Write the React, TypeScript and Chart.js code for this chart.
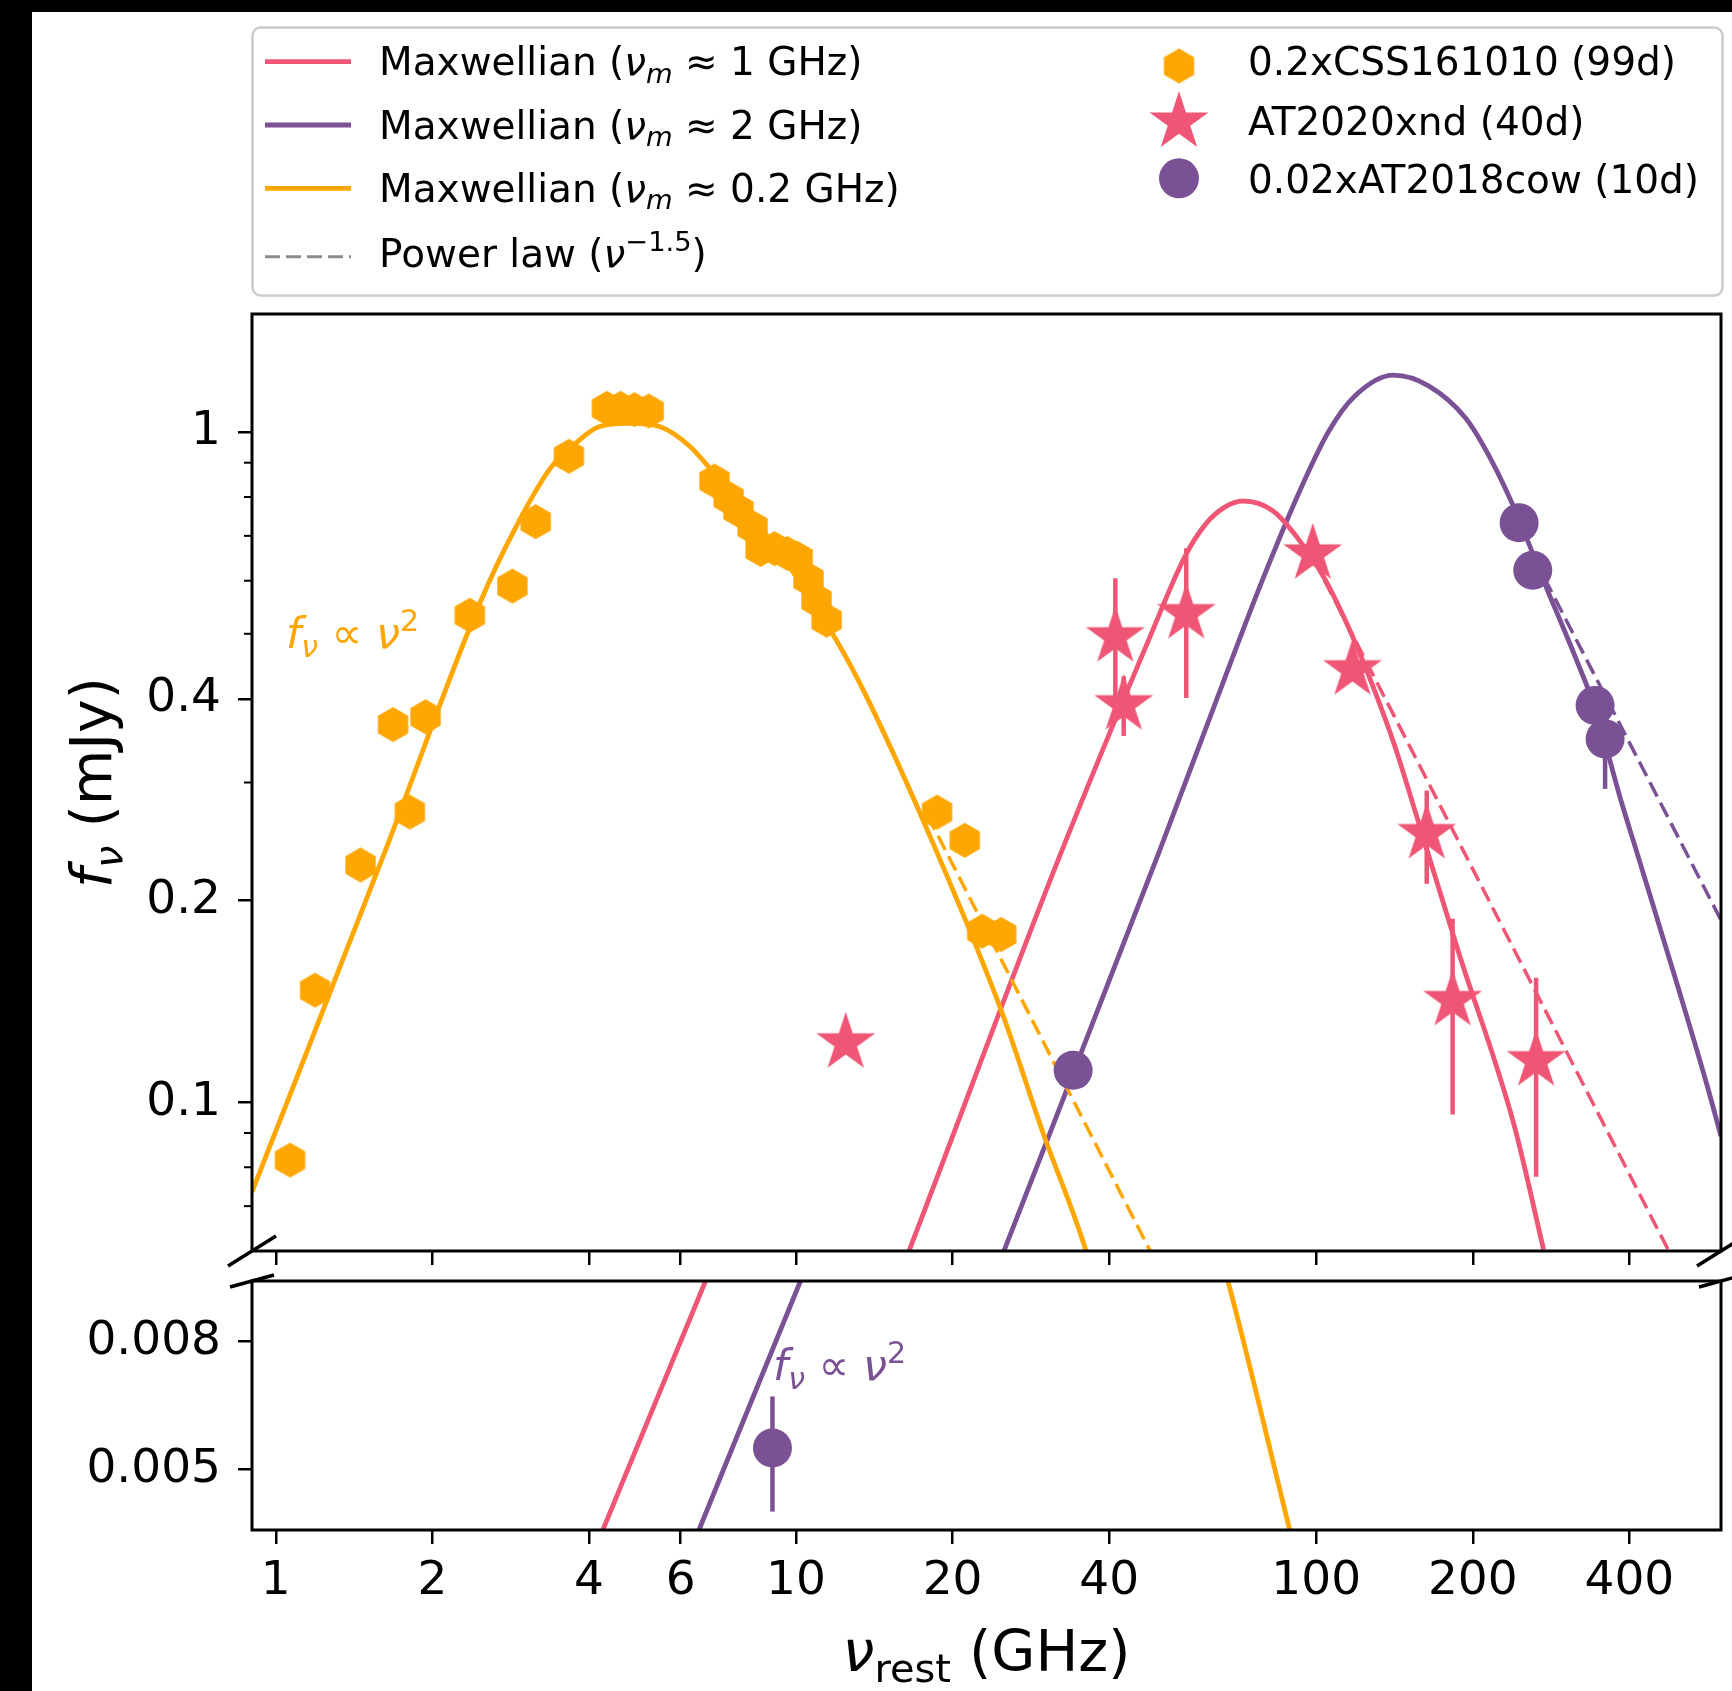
import { useEffect, useRef } from 'react';
import { Chart, registerables } from 'chart.js';

Chart.register(...registerables);

const RED = '#ef5675';
const PURPLE = '#7a5195';
const ORANGE = '#ffa600';
const FONT = '"DejaVu Sans", sans-serif';

// ---- observed spectra (rest-frame GHz, mJy) ----
const cssFreq = [1.065, 1.19, 1.455, 1.68, 1.81, 1.94, 2.36, 2.85, 3.16, 3.66, 4.33, 4.6, 4.89, 5.21, 6.97, 7.42, 7.75, 8.25, 8.55, 9.09, 9.63, 10.07, 10.57, 10.95, 11.45, 18.67, 21.1, 22.8, 24.8];
const cssFlux = [0.082, 0.147, 0.226, 0.366, 0.271, 0.376, 0.533, 0.589, 0.735, 0.92, 1.085, 1.085, 1.08, 1.075, 0.845, 0.797, 0.764, 0.721, 0.668, 0.67, 0.659, 0.648, 0.603, 0.561, 0.524, 0.271, 0.246, 0.18, 0.178];

const xndFreq = [12.46, 41.1, 42.65, 56.26, 98.5, 117.4, 163.1, 182.9, 264.7];
const xndFlux = [0.1227, 0.495, 0.392, 0.536, 0.658, 0.442, 0.2518, 0.1419, 0.1154];
const xndErr = [0, 0.11, 0.04, 0.135, 0, 0, 0.04, 0.046, 0.038];

const cowFreq = [9.01, 34.1, 245.5, 260.8, 343.6, 359.2];
const cowFlux = [0.00541, 0.1116, 0.732, 0.622, 0.391, 0.3485];
const cowErr = [0.00113, 0, 0, 0, 0, 0.055];

// ---- Maxwellian model curves ----
const maxw1Freq = [4.253, 6.7, 16.53, 31.87, 47.98, 56.1, 61.4, 66.6, 72.3, 82.5, 92.6, 103.8, 116.5, 128.5, 141.8, 156.5, 187.4, 239.9, 273.6];
const maxw1Flux = [0.004, 0.01, 0.0603, 0.2293, 0.4961, 0.655, 0.73, 0.772, 0.789, 0.763, 0.691, 0.604, 0.5026, 0.4177, 0.339, 0.265, 0.1683, 0.0927, 0.0603];

const maxw2Freq = [6.508, 10.2, 25.16, 50.0, 66.6, 78.5, 92.6, 105.5, 118.4, 140.7, 164.4, 193.7, 217.4, 239.9, 277.5, 316.9, 343.6, 385.5, 412.5, 494.1, 563.4, 600];
const maxw2Flux = [0.004, 0.01, 0.0603, 0.2374, 0.428, 0.5966, 0.811, 1.0, 1.13, 1.216, 1.172, 1.049, 0.906, 0.772, 0.584, 0.456, 0.387, 0.2818, 0.2374, 0.15, 0.1064, 0.089];

const maxw02Freq = [0.9, 1.624, 2.461, 2.882, 3.375, 3.776, 4.18, 4.786, 5.48, 6.27, 6.7, 8.93, 11.91, 13.67, 18.6, 24.82, 29.91, 36.03, 67.64, 88.95];
const maxw02Flux = [0.0735, 0.2374, 0.553, 0.717, 0.884, 0.963, 1.018, 1.03, 1.018, 0.95, 0.898, 0.69, 0.4915, 0.4026, 0.2374, 0.1369, 0.0896, 0.0603, 0.01, 0.004];

// ---- optically thin power-law tails (nu^-1.5) ----
const plOrangeFreq = [17.9, 48.5];
const plOrangeFlux = [0.268, 0.059];
const plRedFreq = [99, 487];
const plRedFlux = [0.645, 0.058];
const plPurpleFreq = [262, 600];
const plPurpleFlux = [0.65, 0.187];

// ---- axes ----
const xTickValues = [1, 2, 4, 6, 10, 20, 40, 100, 200, 400];
const yTickValuesTop = [0.1, 0.2, 0.4, 1];
const yMinorTop = [0.07, 0.08, 0.09, 0.3, 0.5, 0.6, 0.7, 0.8, 0.9];
const yTickValuesBottom = [0.005, 0.008];

const X_RANGE = [0.9, 600];
const TOP_Y_RANGE = [0.06, 1.5];
const BOTTOM_Y_RANGE = [0.004, 0.01];

const TICK_FONT = 47;
const LABEL_FONT = 57;
const LEGEND_FONT = 39;
const NOTE_FONT = 43;
const CURVE_WIDTH = 4.8;

type Run = { t: string; it?: boolean; sub?: boolean; sup?: boolean };

function runFont(r: Run, size: number) {
  const s = r.sub || r.sup ? size * 0.7 : size;
  return `${r.it ? 'italic ' : ''}${s}px ${FONT}`;
}

function runsWidth(ctx: CanvasRenderingContext2D, runs: Run[], size: number) {
  let w = 0;
  for (const r of runs) {
    ctx.font = runFont(r, size);
    w += ctx.measureText(r.t).width;
  }
  return w;
}

function drawRuns(ctx: CanvasRenderingContext2D, runs: Run[], x: number, y: number, size: number, color: string) {
  ctx.fillStyle = color;
  ctx.textBaseline = 'alphabetic';
  ctx.textAlign = 'left';
  let cx = x;
  for (const r of runs) {
    ctx.font = runFont(r, size);
    const dy = r.sub ? 0.2 * size : r.sup ? -0.4 * size : 0;
    ctx.fillText(r.t, cx, y + dy);
    cx += ctx.measureText(r.t).width;
  }
}

function makeHexagon(R: number, color: string) {
  const c = document.createElement('canvas');
  const s = Math.ceil(R * 2 + 4);
  c.width = s;
  c.height = s;
  const g = c.getContext('2d')!;
  g.fillStyle = color;
  g.beginPath();
  for (let k = 0; k < 6; k++) {
    const a = -Math.PI / 2 + (k * Math.PI) / 3;
    const px = s / 2 + R * Math.cos(a);
    const py = s / 2 + R * Math.sin(a);
    if (k === 0) g.moveTo(px, py);
    else g.lineTo(px, py);
  }
  g.closePath();
  g.fill();
  return c;
}

function makeStar(R: number, color: string) {
  const c = document.createElement('canvas');
  const s = Math.ceil(R * 2 + 4);
  c.width = s;
  c.height = s;
  const g = c.getContext('2d')!;
  const r = R * 0.381966;
  g.fillStyle = color;
  g.beginPath();
  for (let k = 0; k < 10; k++) {
    const a = -Math.PI / 2 + (k * Math.PI) / 5;
    const rad = k % 2 === 0 ? R : r;
    const px = s / 2 + rad * Math.cos(a);
    const py = s / 2 + rad * Math.sin(a);
    if (k === 0) g.moveTo(px, py);
    else g.lineTo(px, py);
  }
  g.closePath();
  g.fill();
  return c;
}

const toPoints = (xs: number[], ys: number[]) => xs.map((x, i) => ({ x, y: ys[i] }));

const relation = (value: string): Run[] => [
  { t: 'Maxwellian (' },
  { t: 'ν', it: true },
  { t: 'm', it: true, sub: true },
  { t: ` ≈ ${value} GHz)` },
];

const nuSquared: Run[] = [
  { t: 'f', it: true },
  { t: 'ν', it: true, sub: true },
  { t: ' ∝ ' },
  { t: 'ν', it: true },
  { t: '2', sup: true },
];

function drawLegend(ctx: CanvasRenderingContext2D, hexImg: HTMLCanvasElement, starImg: HTMLCanvasElement) {
  ctx.save();
  ctx.beginPath();
  ctx.roundRect(252.5, 27.5, 1470, 268, 8);
  ctx.fillStyle = '#ffffff';
  ctx.fill();
  ctx.lineWidth = 2.5;
  ctx.strokeStyle = '#cccccc';
  ctx.stroke();

  const lineRows = [
    { color: RED, dash: [] as number[], width: CURVE_WIDTH, y: 61.7, base: 75, runs: relation('1') },
    { color: PURPLE, dash: [] as number[], width: CURVE_WIDTH, y: 125, base: 138.5, runs: relation('2') },
    { color: ORANGE, dash: [] as number[], width: CURVE_WIDTH, y: 188.3, base: 201.5, runs: relation('0.2') },
    {
      color: '#8c8c8c',
      dash: [15, 6],
      width: 3,
      y: 256.7,
      base: 266.5,
      runs: [{ t: 'Power law (' }, { t: 'ν', it: true }, { t: '−1.5', sup: true }, { t: ')' }] as Run[],
    },
  ];
  for (const row of lineRows) {
    ctx.beginPath();
    ctx.setLineDash(row.dash);
    ctx.strokeStyle = row.color;
    ctx.lineWidth = row.width;
    ctx.moveTo(265, row.y);
    ctx.lineTo(351, row.y);
    ctx.stroke();
    ctx.setLineDash([]);
    drawRuns(ctx, row.runs, 379, row.base, LEGEND_FONT, '#000');
  }

  ctx.drawImage(hexImg, 1179 - hexImg.width / 2, 66 - hexImg.height / 2);
  ctx.drawImage(starImg, 1179 - starImg.width / 2, 122 - starImg.height / 2);
  ctx.beginPath();
  ctx.fillStyle = PURPLE;
  ctx.arc(1179, 178.3, 20, 0, Math.PI * 2);
  ctx.fill();

  drawRuns(ctx, [{ t: '0.2xCSS161010 (99d)' }], 1248, 75, LEGEND_FONT, '#000');
  drawRuns(ctx, [{ t: 'AT2020xnd (40d)' }], 1248, 135, LEGEND_FONT, '#000');
  drawRuns(ctx, [{ t: '0.02xAT2018cow (10d)' }], 1248, 193, LEGEND_FONT, '#000');
  ctx.restore();
}

function breakMark(ctx: CanvasRenderingContext2D, cx: number, cy: number, hx: number, hy: number) {
  ctx.beginPath();
  ctx.moveTo(cx - hx, cy + hy);
  ctx.lineTo(cx + hx, cy - hy);
  ctx.stroke();
}

function makePlugin(panel: 'top' | 'bottom', hexImg: HTMLCanvasElement, starImg: HTMLCanvasElement) {
  return {
    id: 'panelDecor',
    beforeDatasetDraw(chart: any, args: any) {
      const ds = chart.data.datasets[args.index];
      if (!ds.yErr) return;
      const { ctx, chartArea: a, scales } = chart;
      ctx.save();
      ctx.beginPath();
      ctx.rect(a.left, a.top, a.right - a.left, a.bottom - a.top);
      ctx.clip();
      ctx.strokeStyle = ds.errColor;
      ctx.lineWidth = 4.5;
      ds.data.forEach((p: any, i: number) => {
        const e = ds.yErr[i];
        if (!e) return;
        const px = scales.x.getPixelForValue(p.x);
        ctx.beginPath();
        ctx.moveTo(px, scales.y.getPixelForValue(p.y + e));
        ctx.lineTo(px, scales.y.getPixelForValue(p.y - e));
        ctx.stroke();
      });
      ctx.restore();
    },
    afterDatasetsDraw(chart: any) {
      const { ctx, chartArea: a } = chart;
      ctx.save();
      ctx.strokeStyle = '#000';
      ctx.lineWidth = 3;
      ctx.strokeRect(a.left, a.top, a.right - a.left, a.bottom - a.top);
      ctx.restore();
    },
    afterDraw(chart: any) {
      const { ctx, chartArea: a, scales } = chart;
      ctx.save();
      ctx.strokeStyle = '#000';
      if (panel === 'top') {
        // minor ticks on the log flux axis
        ctx.lineWidth = 2;
        for (const v of yMinorTop) {
          const py = scales.y.getPixelForValue(v);
          ctx.beginPath();
          ctx.moveTo(a.left - 8, py);
          ctx.lineTo(a.left, py);
          ctx.stroke();
        }
        ctx.lineWidth = 3.5;
        breakMark(ctx, a.left, a.bottom, 24, 15);
        breakMark(ctx, a.right, a.bottom, 24, 15);

        drawLegend(ctx, hexImg, starImg);

        // y-axis title
        const yRuns: Run[] = [{ t: 'f', it: true }, { t: 'ν', it: true, sub: true }, { t: ' (mJy)' }];
        const w = runsWidth(ctx, yRuns, LABEL_FONT);
        ctx.save();
        ctx.translate(111, (a.top + a.bottom) / 2);
        ctx.rotate(-Math.PI / 2);
        drawRuns(ctx, yRuns, -w / 2, 0, LABEL_FONT, '#000');
        ctx.restore();

        drawRuns(ctx, nuSquared, 286, 648, NOTE_FONT, ORANGE);
      } else {
        ctx.lineWidth = 3.5;
        breakMark(ctx, a.left, a.top, 22, 6);
        breakMark(ctx, a.right, a.top, 22, 6);

        const xRuns: Run[] = [{ t: 'ν', it: true }, { t: 'rest', sub: true }, { t: ' (GHz)' }];
        const w = runsWidth(ctx, xRuns, LABEL_FONT);
        drawRuns(ctx, xRuns, (a.left + a.right) / 2 - w / 2, 1671, LABEL_FONT, '#000');

        drawRuns(ctx, nuSquared, 773, 1380, NOTE_FONT, PURPLE);
      }
      ctx.restore();
    },
  };
}

function buildConfig(panel: 'top' | 'bottom', hexImg: HTMLCanvasElement, starImg: HTMLCanvasElement): any {
  const isTop = panel === 'top';
  const curve = (xs: number[], ys: number[], color: string) => ({
    data: toPoints(xs, ys),
    showLine: true,
    borderColor: color,
    borderWidth: CURVE_WIDTH,
    pointRadius: 0,
    cubicInterpolationMode: 'monotone',
    capBezierPoints: false,
    borderJoinStyle: 'round',
    order: 10,
  });
  const tail = (xs: number[], ys: number[], color: string) => ({
    data: toPoints(xs, ys),
    showLine: true,
    borderColor: color,
    borderWidth: 3.5,
    borderDash: [16, 7],
    pointRadius: 0,
    order: 5,
  });

  const datasets = [
    {
      label: '0.2xCSS161010 (99d)',
      data: toPoints(cssFreq, cssFlux),
      pointStyle: hexImg,
      pointRadius: 17.5,
      pointBorderWidth: 0,
      backgroundColor: ORANGE,
      order: 1,
    },
    {
      label: 'AT2020xnd (40d)',
      data: toPoints(xndFreq, xndFlux),
      pointStyle: starImg,
      pointRadius: 31,
      pointBorderWidth: 0,
      backgroundColor: RED,
      order: 2,
      yErr: xndErr,
      errColor: RED,
    },
    {
      label: '0.02xAT2018cow (10d)',
      data: toPoints(cowFreq, cowFlux),
      pointStyle: 'circle',
      pointRadius: 19.5,
      pointBorderWidth: 0,
      backgroundColor: PURPLE,
      order: 3,
      yErr: cowErr,
      errColor: PURPLE,
    },
    tail(plOrangeFreq, plOrangeFlux, ORANGE),
    tail(plRedFreq, plRedFlux, RED),
    tail(plPurpleFreq, plPurpleFlux, PURPLE),
    curve(maxw02Freq, maxw02Flux, ORANGE),
    curve(maxw1Freq, maxw1Flux, RED),
    curve(maxw2Freq, maxw2Flux, PURPLE),
  ];

  const tickGrid = {
    display: true,
    drawOnChartArea: false,
    drawTicks: true,
    tickLength: 14,
    tickWidth: 2.5,
    tickColor: '#000',
    color: '#000',
    lineWidth: 2.5,
  };
  const yTicks = isTop ? yTickValuesTop : yTickValuesBottom;
  const yRange = isTop ? TOP_Y_RANGE : BOTTOM_Y_RANGE;

  return {
    type: 'scatter',
    data: { datasets },
    options: {
      animation: false,
      responsive: false,
      events: [],
      layout: {
        autoPadding: false,
        padding: isTop
          ? { left: 0, top: 314, right: 11, bottom: 420 }
          : { left: 0, top: 1281, right: 11, bottom: 0 },
      },
      plugins: { legend: { display: false }, tooltip: { enabled: false } },
      scales: {
        x: {
          type: 'logarithmic',
          position: 'bottom',
          min: X_RANGE[0],
          max: X_RANGE[1],
          afterBuildTicks: (s: any) => {
            s.ticks = xTickValues.map((v) => ({ value: v }));
          },
          afterFit: (s: any) => {
            s.height = isTop ? 20 : 161;
          },
          ticks: {
            display: !isTop,
            autoSkip: false,
            maxRotation: 0,
            minRotation: 0,
            padding: 10,
            color: '#000',
            font: { family: FONT, size: TICK_FONT },
            callback: (v: number) => String(v),
          },
          grid: tickGrid,
          border: { display: false },
        },
        y: {
          type: 'logarithmic',
          position: 'left',
          min: yRange[0],
          max: yRange[1],
          afterBuildTicks: (s: any) => {
            s.ticks = yTicks.map((v) => ({ value: v }));
          },
          afterFit: (s: any) => {
            s.width = 252;
          },
          ticks: {
            autoSkip: false,
            padding: 17,
            color: '#000',
            font: { family: FONT, size: TICK_FONT },
            callback: (v: number) => String(v),
          },
          grid: tickGrid,
          border: { display: false },
        },
      },
    },
    plugins: [makePlugin(panel, hexImg, starImg)],
  };
}

export default function App() {
  const topRef = useRef<HTMLCanvasElement>(null);
  const bottomRef = useRef<HTMLCanvasElement>(null);

  useEffect(() => {
    const hexImg = makeHexagon(17.5, ORANGE);
    const starImg = makeStar(31, RED);
    const top = new Chart(topRef.current!, buildConfig('top', hexImg, starImg));
    const bottom = new Chart(bottomRef.current!, buildConfig('bottom', hexImg, starImg));
    return () => {
      top.destroy();
      bottom.destroy();
    };
  }, []);

  const layer = { position: 'absolute' as const, left: 0, top: 0, width: 1732, height: 1691 };
  return (
    <div style={{ ...layer, background: '#ffffff', overflow: 'hidden' }}>
      <canvas ref={topRef} width={1732} height={1691} style={layer} />
      <canvas ref={bottomRef} width={1732} height={1691} style={layer} />
      <div style={{ position: 'absolute', left: 0, top: 0, width: 32, height: 1691, background: '#000' }} />
      <div style={{ position: 'absolute', left: 0, top: 0, width: 1732, height: 12, background: '#000' }} />
    </div>
  );
}
